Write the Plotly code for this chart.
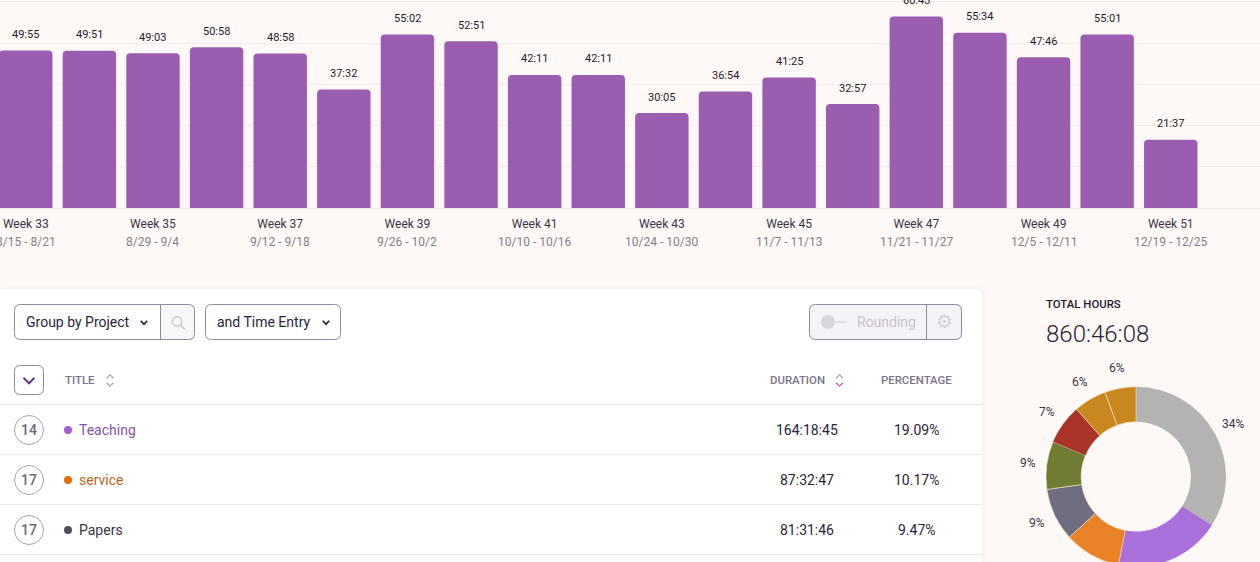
import math

import plotly.graph_objects as go

# weekly totals
weeks = list(range(33, 52))
durations = ['49:55', '49:51', '49:03', '50:58', '48:58', '37:32', '55:02', '52:51', '42:11', '42:11',
             '30:05', '36:54', '41:25', '32:57', '60:43', '55:34', '47:46', '55:01', '21:37']
tick_weeks = [33, 35, 37, 39, 41, 43, 45, 47, 49, 51]
tick_dates = ['8/15 - 8/21', '8/29 - 9/4', '9/12 - 9/18', '9/26 - 10/2', '10/10 - 10/16',
              '10/24 - 10/30', '11/7 - 11/13', '11/21 - 11/27', '12/5 - 12/11', '12/19 - 12/25']

# donut
slice_values = [34.1, 19.09, 10.17, 9.47, 8.6, 7.2, 5.9, 5.6]
slice_colors = ['#b3b3b3', '#a96fdb', '#e98227', '#6e6e80', '#6f7d34', '#ab3428', '#c8871f', '#c8871f']
slice_lines = [0, 0, 0.6, 0.6, 0.6, 0, 0.6, 0.6]

# table
row_counts = ['14', '17', '17']
row_titles = ['Teaching', 'service', 'Papers']
row_dots = ['#a45ed3', '#e26e09', '#4f4d5e']
row_text_colors = ['#7f55a8', '#b8651b', '#38343f']
row_durations = ['164:18:45', '87:32:47', '81:31:46']
row_percents = ['19.09%', '10.17%', '9.47%']

W, H = 1260, 600
BG = '#fef9f6'
INK = '#2a2438'
FONT = 'Roboto'
PIE_X, PIE_Y, PIE_R = 1136, 476.7, 90


def to_hours(s):
    h, m = s.split(':')
    return int(h) + int(m) / 60


def X(x):
    return x / W


def Y(y):
    return 1 - y / H


def rect_path(x0, y0, x1, y1, r=6, corners='tl tr br bl'):
    c = corners.split()
    tl, tr, br, bl = [r if k in c else 0 for k in ('tl', 'tr', 'br', 'bl')]
    return (f'M {X(x0 + tl)} {Y(y0)} L {X(x1 - tr)} {Y(y0)} Q {X(x1)} {Y(y0)} {X(x1)} {Y(y0 + tr)} '
            f'L {X(x1)} {Y(y1 - br)} Q {X(x1)} {Y(y1)} {X(x1 - br)} {Y(y1)} '
            f'L {X(x0 + bl)} {Y(y1)} Q {X(x0)} {Y(y1)} {X(x0)} {Y(y1 - bl)} '
            f'L {X(x0)} {Y(y0 + tl)} Q {X(x0)} {Y(y0)} {X(x0 + tl)} {Y(y0)} Z')


def box(x0, y0, x1, y1, r=6, fill='rgba(0,0,0,0)', line='#8f8a9a', width=1, corners='tl tr br bl', layer='above'):
    return dict(type='path', xref='paper', yref='paper', path=rect_path(x0, y0, x1, y1, r, corners),
                fillcolor=fill, line=dict(color=line, width=width), layer=layer)


def seg(points, color, width=1.5):
    path = 'M ' + ' L '.join(f'{X(x)} {Y(y)}' for x, y in points)
    return dict(type='path', xref='paper', yref='paper', path=path, line=dict(color=color, width=width))


def circle(cx, cy, r, fill='rgba(0,0,0,0)', line='rgba(0,0,0,0)', width=1):
    return dict(type='circle', xref='paper', yref='paper', x0=X(cx - r), x1=X(cx + r), y0=Y(cy + r), y1=Y(cy - r),
                fillcolor=fill, line=dict(color=line, width=width))


def label(x, y, text, size=14, color=INK, anchor='left', weight=400):
    return dict(xref='paper', yref='paper', x=X(x), y=Y(y), text=text, showarrow=False, xanchor=anchor,
                yanchor='middle', borderpad=0, font=dict(family=FONT, size=size, color=color, weight=weight))


def chevron(cx, cy, w, h, color, up=False, width=1.5):
    d = -h if up else h
    return seg([(cx - w, cy - d / 2), (cx, cy + d / 2), (cx + w, cy - d / 2)], color, width)


fig = go.Figure()
fig.add_trace(go.Bar(
    x=weeks,
    y=[to_hours(d) for d in durations],
    width=0.84,
    marker=dict(color='#9b5db0', line_width=0),
    hoverinfo='skip',
))
fig.add_trace(go.Pie(
    values=slice_values,
    sort=False,
    direction='clockwise',
    rotation=0,
    hole=0.61,
    textinfo='none',
    marker=dict(colors=slice_colors, line=dict(color='#f5e6c8', width=slice_lines)),
    domain=dict(x=[X(PIE_X - PIE_R), X(PIE_X + PIE_R)], y=[Y(PIE_Y + PIE_R), Y(PIE_Y - PIE_R)]),
    hoverinfo='skip',
))

annotations = []
for w, d in zip(weeks, durations):
    annotations.append(dict(x=w, y=to_hours(d), xref='x', yref='y', text=d, showarrow=False, yanchor='middle',
                            yshift=16, font=dict(family=FONT, size=11, color='#1f1a2e')))
for w, d in zip(tick_weeks, tick_dates):
    annotations.append(dict(x=w, y=Y(241.5), xref='x', yref='paper', text=d, showarrow=False, yanchor='middle',
                            font=dict(family=FONT, size=12, color='#837e8c')))

# percent labels sit about 110 px from the donut centre, at the middle of each slice
total = sum(slice_values)
run = 0
for v in slice_values:
    mid = (run + v / 2) / total * 2 * math.pi
    run += v
    annotations.append(label(PIE_X + 0.7 + 110 * math.sin(mid), PIE_Y - 110 * math.cos(mid),
                             f'{round(v / total * 100)}%', 12, '#3a3446', 'center'))

shapes = [
    box(-4, 285, 986, 640, r=10, fill='rgba(60,40,80,0.012)', line='rgba(0,0,0,0)', width=0, layer='below'),
    box(-2, 287, 984, 640, r=9, fill='rgba(60,40,80,0.015)', line='rgba(0,0,0,0)', width=0, layer='below'),
    box(-10, 289, 982, 640, r=8, fill='white', line='rgba(0,0,0,0)', width=0, layer='below'),
    # group controls
    box(160.5, 304.5, 194.5, 339.5, r=6, fill='#f7f6f8', line='#8f8a9a', corners='tr br'),
    box(14.5, 304.5, 160.5, 339.5, r=6, corners='tl bl'),
    chevron(144, 322.5, 3.2, 3.5, INK, width=1.8),
    box(205.5, 304.5, 340.5, 339.5, r=6),
    chevron(326, 322.5, 3.2, 3.5, INK, width=1.8),
    circle(177, 321.5, 4.6, line='#cfcdd3', width=1.6),
    seg([(180.5, 325), (185, 329.5)], '#cfcdd3', 1.8),
    # rounding
    box(809.5, 304.5, 961.5, 339.5, r=6, fill='#f5f3f7'),
    seg([(926.5, 304.5), (926.5, 339.5)], '#8f8a9a', 1),
    circle(828, 322, 7, fill='#d8d6dc'),
    seg([(834, 322), (847, 322)], '#d8d6dc', 1.2),
    # header row
    box(14.5, 365.5, 43.5, 394.5, r=6),
    chevron(29, 380.5, 5.5, 5.5, '#5b3d78', width=2),
    chevron(110, 376.5, 3.5, 3.5, '#a9a5b1', up=True, width=1.2),
    chevron(110, 384.5, 3.5, 3.5, '#a9a5b1', width=1.2),
    chevron(839.5, 376.5, 3.5, 3.5, '#a9a5b1', up=True, width=1.2),
    chevron(839.5, 384.5, 3.5, 3.5, '#c75fa8', width=1.2),
]

annotations += [
    label(25, 322, 'Group by Project', 14),
    label(216, 322, 'and Time Entry', 14),
    label(856, 322, 'Rounding', 14, '#c6c3cc'),
    label(944, 321.5, '⚙', 19, '#d4d2d8', 'center'),
    label(64, 380, 'TITLE', 11.4, '#7b7489', weight=500),
    label(797.5, 380, 'DURATION', 11.4, '#7b7489', 'center', 500),
    label(916.5, 380, 'PERCENTAGE', 11.4, '#7b7489', 'center', 500),
    label(1045, 304, 'TOTAL HOURS', 11.4, '#1f1a2e', weight=500),
    label(1045, 334, '860:46:08', 24, '#2a2438', weight=300),
]

for i in range(4):
    shapes.append(seg([(0, 404.5 + 50 * i), (982, 404.5 + 50 * i)], '#e9e9ec', 1))

for i in range(3):
    cy = 430 + 50 * i
    shapes.append(circle(29, cy, 14.5, fill='white', line='#a5a3aa', width=1))
    shapes.append(circle(68, cy, 4, fill=row_dots[i]))
    annotations += [
        label(29, cy, row_counts[i], 14, '#6c6878', 'center', 500),
        label(78, cy, row_titles[i], 14, row_text_colors[i]),
        label(807, cy, row_durations[i], 14, '#2a2438', 'center'),
        label(916.5, cy, row_percents[i], 14, '#2a2438', 'center'),
    ]

week_ticks = [f'Week {w}' for w in tick_weeks]

fig.update_layout(
    width=W,
    height=H,
    margin=dict(l=0, r=0, t=0, b=0),
    paper_bgcolor=BG,
    plot_bgcolor=BG,
    showlegend=False,
    barcornerradius=4,
    shapes=shapes,
    annotations=annotations,
    xaxis=dict(
        range=[32.595, 52.403],
        tickvals=tick_weeks,
        ticktext=week_ticks,
        tickfont=dict(family=FONT, size=12, color='#3a3446'),
        ticks='outside',
        ticklen=5,
        tickcolor='rgba(0,0,0,0)',
        showgrid=False,
        zeroline=False,
        showline=True,
        linecolor='#f0ebe9',
        tickangle=0,
    ),
    yaxis=dict(
        domain=[Y(208), 1],
        range=[0, 65.95],
        tick0=0,
        dtick=13.07,
        gridcolor='#f2edeb',
        showticklabels=False,
        zeroline=False,
    ),
)
fig.write_html("out.html", config=dict(displayModeBar=False),
               post_script="document.body.style.margin='0';document.documentElement.style.overflow='hidden';")
